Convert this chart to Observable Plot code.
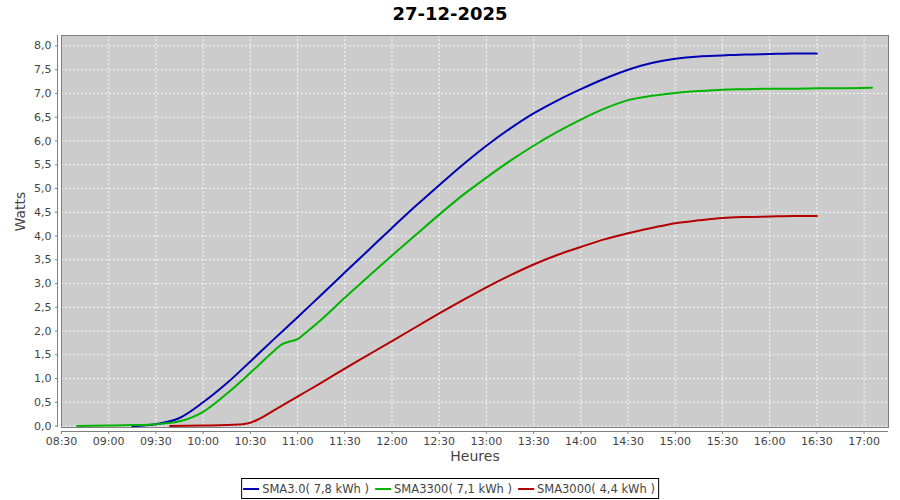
<!DOCTYPE html>
<html>
<head>
<meta charset="utf-8">
<script src="https://cdn.jsdelivr.net/npm/d3@7"></script>
<script src="https://cdn.jsdelivr.net/npm/@observablehq/plot@0.6"></script>
<style>
  body { margin: 0; background: #fff; font-family: "DejaVu Sans", sans-serif; }
  #wrap { position: relative; width: 900px; height: 500px; }
  #title { position: absolute; left: 0; top: 2px; width: 900px; text-align: center; font-weight: bold; font-size: 18px; line-height: 24px; color: #000; }
  #chart { position: absolute; left: 0; top: 0; }
  #legend { position: absolute; top: 478px; left: 450px; transform: translateX(-50%); border: 1px solid #000; display: flex; align-items: center; height: 19px; padding: 0 3px 0 1px; white-space: nowrap; font-size: 11.5px; color: #444; background: #fff; }
  .item { display: flex; align-items: center; margin-right: 6px; }
  .item:last-child { margin-right: 0; }
  .sw { display: inline-block; width: 16px; height: 2px; margin-right: 3px; }
</style>
</head>
<body>
<div id="wrap">
  <div id="chart"></div>
  <div id="title"></div>
  <div id="legend"></div>
</div>
<script>
const titleText = "27-12-2025";
const seriesNames = ["SMA3.0", "SMA3300", "SMA3000"];
const seriesLegend = ["SMA3.0( 7,8 kWh )", "SMA3300( 7,1 kWh )", "SMA3000( 4,4 kWh )"];
const seriesColors = ["#0000b4", "#00b400", "#b40000"];

const blueTimes = ["09:15","09:30","09:45","10:00","10:15","10:30","10:45","11:00","11:15","11:30","11:45","12:00","12:15","12:30","12:45","13:00","13:15","13:30","13:45","14:00","14:15","14:30","14:45","15:00","15:15","15:30","15:45","16:00","16:15","16:30"];
const blueValues = [0.00,0.04,0.17,0.50,0.90,1.36,1.83,2.29,2.76,3.23,3.70,4.17,4.63,5.07,5.50,5.90,6.26,6.58,6.85,7.09,7.31,7.50,7.64,7.73,7.78,7.80,7.82,7.83,7.84,7.84];

const greenTimes = ["08:40","09:00","09:15","09:30","09:45","10:00","10:15","10:30","10:45","10:50","10:55","11:00","11:05","11:15","11:30","11:45","12:00","12:15","12:30","12:45","13:00","13:15","13:30","13:45","14:00","14:15","14:30","14:45","15:00","15:15","15:30","15:45","16:00","16:15","16:30","16:45","17:05"];
const greenValues = [0.00,0.01,0.02,0.04,0.10,0.30,0.68,1.12,1.58,1.72,1.78,1.83,1.96,2.24,2.70,3.15,3.59,4.02,4.45,4.86,5.23,5.58,5.90,6.19,6.45,6.68,6.86,6.95,7.01,7.05,7.08,7.09,7.10,7.10,7.11,7.11,7.12];

const redTimes = ["09:39","10:00","10:15","10:20","10:25","10:30","10:35","10:45","11:00","11:15","11:30","11:45","12:00","12:15","12:30","12:45","13:00","13:15","13:30","13:45","14:00","14:15","14:30","14:45","15:00","15:15","15:30","15:45","16:00","16:15","16:30"];
const redValues = [0.00,0.01,0.02,0.03,0.04,0.07,0.14,0.33,0.62,0.91,1.21,1.50,1.79,2.08,2.37,2.65,2.92,3.17,3.40,3.60,3.77,3.93,4.06,4.17,4.27,4.33,4.38,4.40,4.41,4.42,4.42];

const xTickLabels = ["08:30","09:00","09:30","10:00","10:30","11:00","11:30","12:00","12:30","13:00","13:30","14:00","14:30","15:00","15:30","16:00","16:30","17:00"];
const yTicks = [0,0.5,1,1.5,2,2.5,3,3.5,4,4.5,5,5.5,6,6.5,7,7.5,8];
const xStart = "08:30", xEnd = "17:15:30";
const yMin = -0.03, yMax = 8.22;
const xLabel = "Heures", yLabel = "Watts";

const parse = t => { const p = t.split(":").map(Number); return new Date(2025, 11, 27, p[0], p[1], p[2] || 0); };

const rows = [];
[[blueTimes, blueValues], [greenTimes, greenValues], [redTimes, redValues]].forEach(([ts, vs], i) => {
  ts.forEach((t, j) => rows.push({series: seriesNames[i], time: parse(t), value: vs[j]}));
});
const xTicks = xTickLabels.map(parse);
const fmtY = d => d.toFixed(1).replace(".", ",");
const fmtX = d3.timeFormat("%H:%M");

const chart = Plot.plot({
  width: 900, height: 500,
  marginLeft: 61, marginRight: 12, marginTop: 35, marginBottom: 73,
  style: {fontFamily: "DejaVu Sans", fontSize: "11px", color: "#444", background: "transparent"},
  x: {type: "time", domain: [parse(xStart), parse(xEnd)]},
  y: {domain: [yMin, yMax]},
  color: {domain: seriesNames, range: seriesColors},
  marks: [
    Plot.frame({fill: "#cccccc"}),
    Plot.gridX(xTicks, {stroke: "#ffffff", strokeOpacity: 0.85, strokeDasharray: "2,2"}),
    Plot.gridY(yTicks, {stroke: "#ffffff", strokeOpacity: 0.85, strokeDasharray: "2,2"}),
    Plot.frame({stroke: "#808080"}),
    Plot.ruleX([parse(xStart)], {stroke: "#808080", dx: -4}),
    Plot.ruleY([yMin], {stroke: "#808080", dy: 4}),
    Plot.axisY(yTicks, {anchor: "left", dx: -4, tickSize: 2, tickPadding: 4, tickFormat: fmtY, stroke: "#808080", fill: "#444", label: null}),
    Plot.axisX(xTicks, {anchor: "bottom", dy: 4, tickSize: 3, tickPadding: 3, tickFormat: fmtX, stroke: "#808080", fill: "#444", label: null}),
    Plot.text([yLabel], {text: d => d, frameAnchor: "left", dx: -41, rotate: -90, fontSize: 14, fill: "#444"}),
    Plot.text([xLabel], {text: d => d, frameAnchor: "bottom", dy: 33, fontSize: 14, fill: "#444"}),
    Plot.line(rows, {x: "time", y: "value", z: "series", stroke: "series", strokeWidth: 2, curve: "monotone-x"})
  ]
});
document.getElementById("chart").appendChild(chart);
document.getElementById("title").textContent = titleText;
const leg = document.getElementById("legend");
seriesLegend.forEach((s, i) => {
  const it = document.createElement("span"); it.className = "item";
  const sw = document.createElement("span"); sw.className = "sw"; sw.style.background = seriesColors[i];
  const tx = document.createElement("span"); tx.textContent = s;
  it.appendChild(sw); it.appendChild(tx); leg.appendChild(it);
});
</script>
</body>
</html>
